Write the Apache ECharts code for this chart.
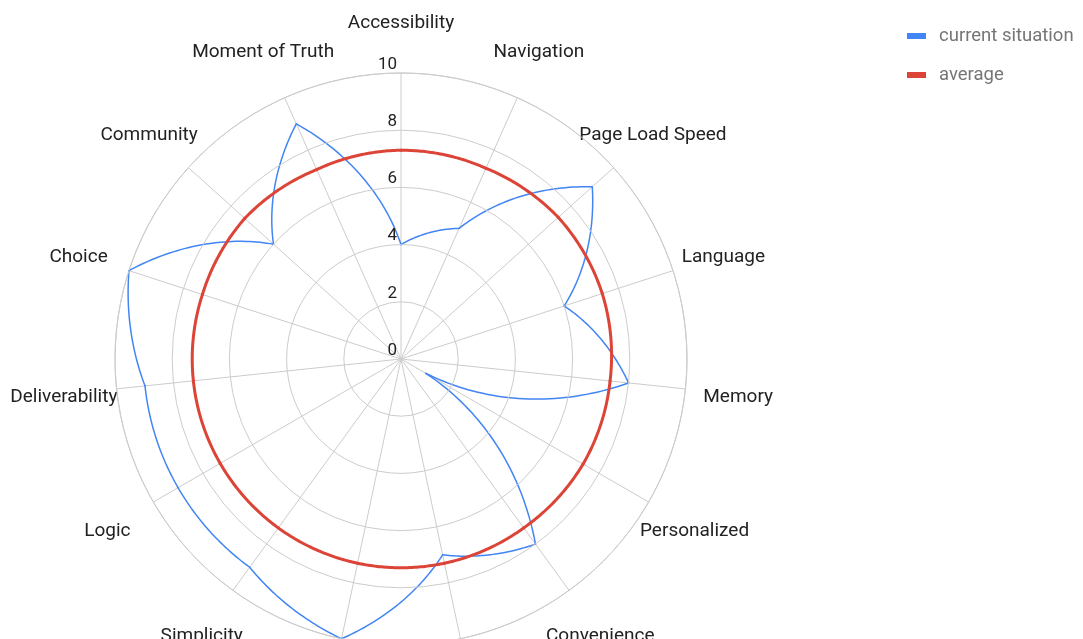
<!DOCTYPE html>
<html>
<head>
<meta charset="utf-8">
<script src="https://cdn.jsdelivr.net/npm/echarts@6/dist/echarts.min.js"></script>
<style>
  html, body { margin: 0; padding: 0; background: #fff; }
  #chart { width: 1083px; height: 639px; }
</style>
</head>
<body>
<div id="chart"></div>
<script>
// ---- data ----
const indicators = ['Accessibility', 'Navigation', 'Page Load Speed', 'Language', 'Memory',
  'Personalized', 'Convenience', '', '', 'Simplicity', 'Logic', 'Deliverability',
  'Choice', 'Community', 'Moment of Truth'];
const currentSituation = [4, 5, 9, 6, 8, 1, 8, 7, 10, 9, 9, 9, 10, 6, 9];
const average = [7.3, 7.3, 7.4, 7.4, 7.35, 7.35, 7.3, 7.3, 7.3, 7.3, 7.3, 7.3, 7.3, 7.35, 7.25];
const radiusTicks = [0, 2, 4, 6, 8, 10];
const seriesNames = ['current situation', 'average'];

const FONT = 'Roboto, "Noto Sans", Arial, sans-serif';
const N = indicators.length;

// Segment i goes from indicator i to indicator i+1, straight in (angle, radius) space
function ringSeries(name, values, color, width, z) {
  return {
    type: 'custom',
    name: name,
    coordinateSystem: 'polar',
    z: z,
    silent: true,
    itemStyle: { color: color },
    data: values.map((v, i) => [v, i]),
    renderItem: function (params, api) {
      const i = params.dataIndex;
      const v0 = values[i];
      const v1 = values[(i + 1) % N];
      const steps = 40;
      const pts = [];
      for (let k = 0; k <= steps; k++) {
        const t = k / steps;
        pts.push(api.coord([v0 + (v1 - v0) * t, i + t]));
      }
      return {
        type: 'polyline',
        shape: { points: pts },
        style: { stroke: color, lineWidth: width, fill: null, lineCap: 'round', lineJoin: 'miter' }
      };
    }
  };
}

const labelSeries = {
  type: 'custom',
  coordinateSystem: 'polar',
  silent: true,
  clip: false,
  z: 5,
  data: indicators.map((n, i) => [radiusTicks[radiusTicks.length - 1], i]),
  renderItem: function (params, api) {
    const i = params.dataIndex;
    const c0 = api.coord([0, i]);
    const c1 = api.coord([radiusTicks[radiusTicks.length - 1], i]);
    const dx = c1[0] - c0[0], dy = c1[1] - c0[1];
    const d = Math.sqrt(dx * dx + dy * dy) || 1;
    const s = (d + 53) / d;
    return {
      type: 'text',
      x: c0[0] + dx * s,
      y: c0[1] + dy * s + 3,
      style: {
        text: indicators[i],
        align: 'center',
        verticalAlign: 'middle',
        fill: '#222222',
        font: '19px ' + FONT
      }
    };
  }
};

const chart = echarts.init(document.getElementById('chart'), null, { renderer: 'canvas' });
chart.setOption({
  animation: false,
  backgroundColor: '#ffffff',
  textStyle: { fontFamily: FONT },
  legend: {
    data: seriesNames,
    orient: 'vertical',
    left: 902,
    top: 20,
    icon: 'rect',
    itemWidth: 19,
    itemHeight: 6,
    itemGap: 17,
    textStyle: { color: '#757575', fontSize: 18.5, fontFamily: FONT, lineHeight: 22, padding: [0, 0, 0, 8] }
  },
  polar: { center: [401, 359], radius: 286 },
  angleAxis: {
    type: 'value',
    min: 0,
    max: N,
    interval: 1,
    startAngle: 90,
    clockwise: true,
    axisLine: { show: true, lineStyle: { color: '#cccccc', width: 1 } },
    axisTick: { show: false },
    axisLabel: { show: false },
    splitLine: { show: true, lineStyle: { color: '#cccccc', width: 1 } }
  },
  radiusAxis: {
    type: 'value',
    min: radiusTicks[0],
    max: radiusTicks[radiusTicks.length - 1],
    interval: radiusTicks[1] - radiusTicks[0],
    axisLine: { show: false },
    axisTick: { show: false },
    splitLine: { show: true, lineStyle: { color: '#cccccc', width: 1 } },
    axisLabel: {
      show: true,
      color: '#222222',
      fontSize: 17,
      fontFamily: FONT,
      margin: 4,
      align: 'right',
      verticalAlign: 'bottom',
      formatter: v => String(v)
    },
    z: 10
  },
  series: [
    ringSeries(seriesNames[0], currentSituation, '#4285f4', 1.5, 3),
    ringSeries(seriesNames[1], average, '#db4437', 3, 4),
    labelSeries
  ]
});
</script>
</body>
</html>
